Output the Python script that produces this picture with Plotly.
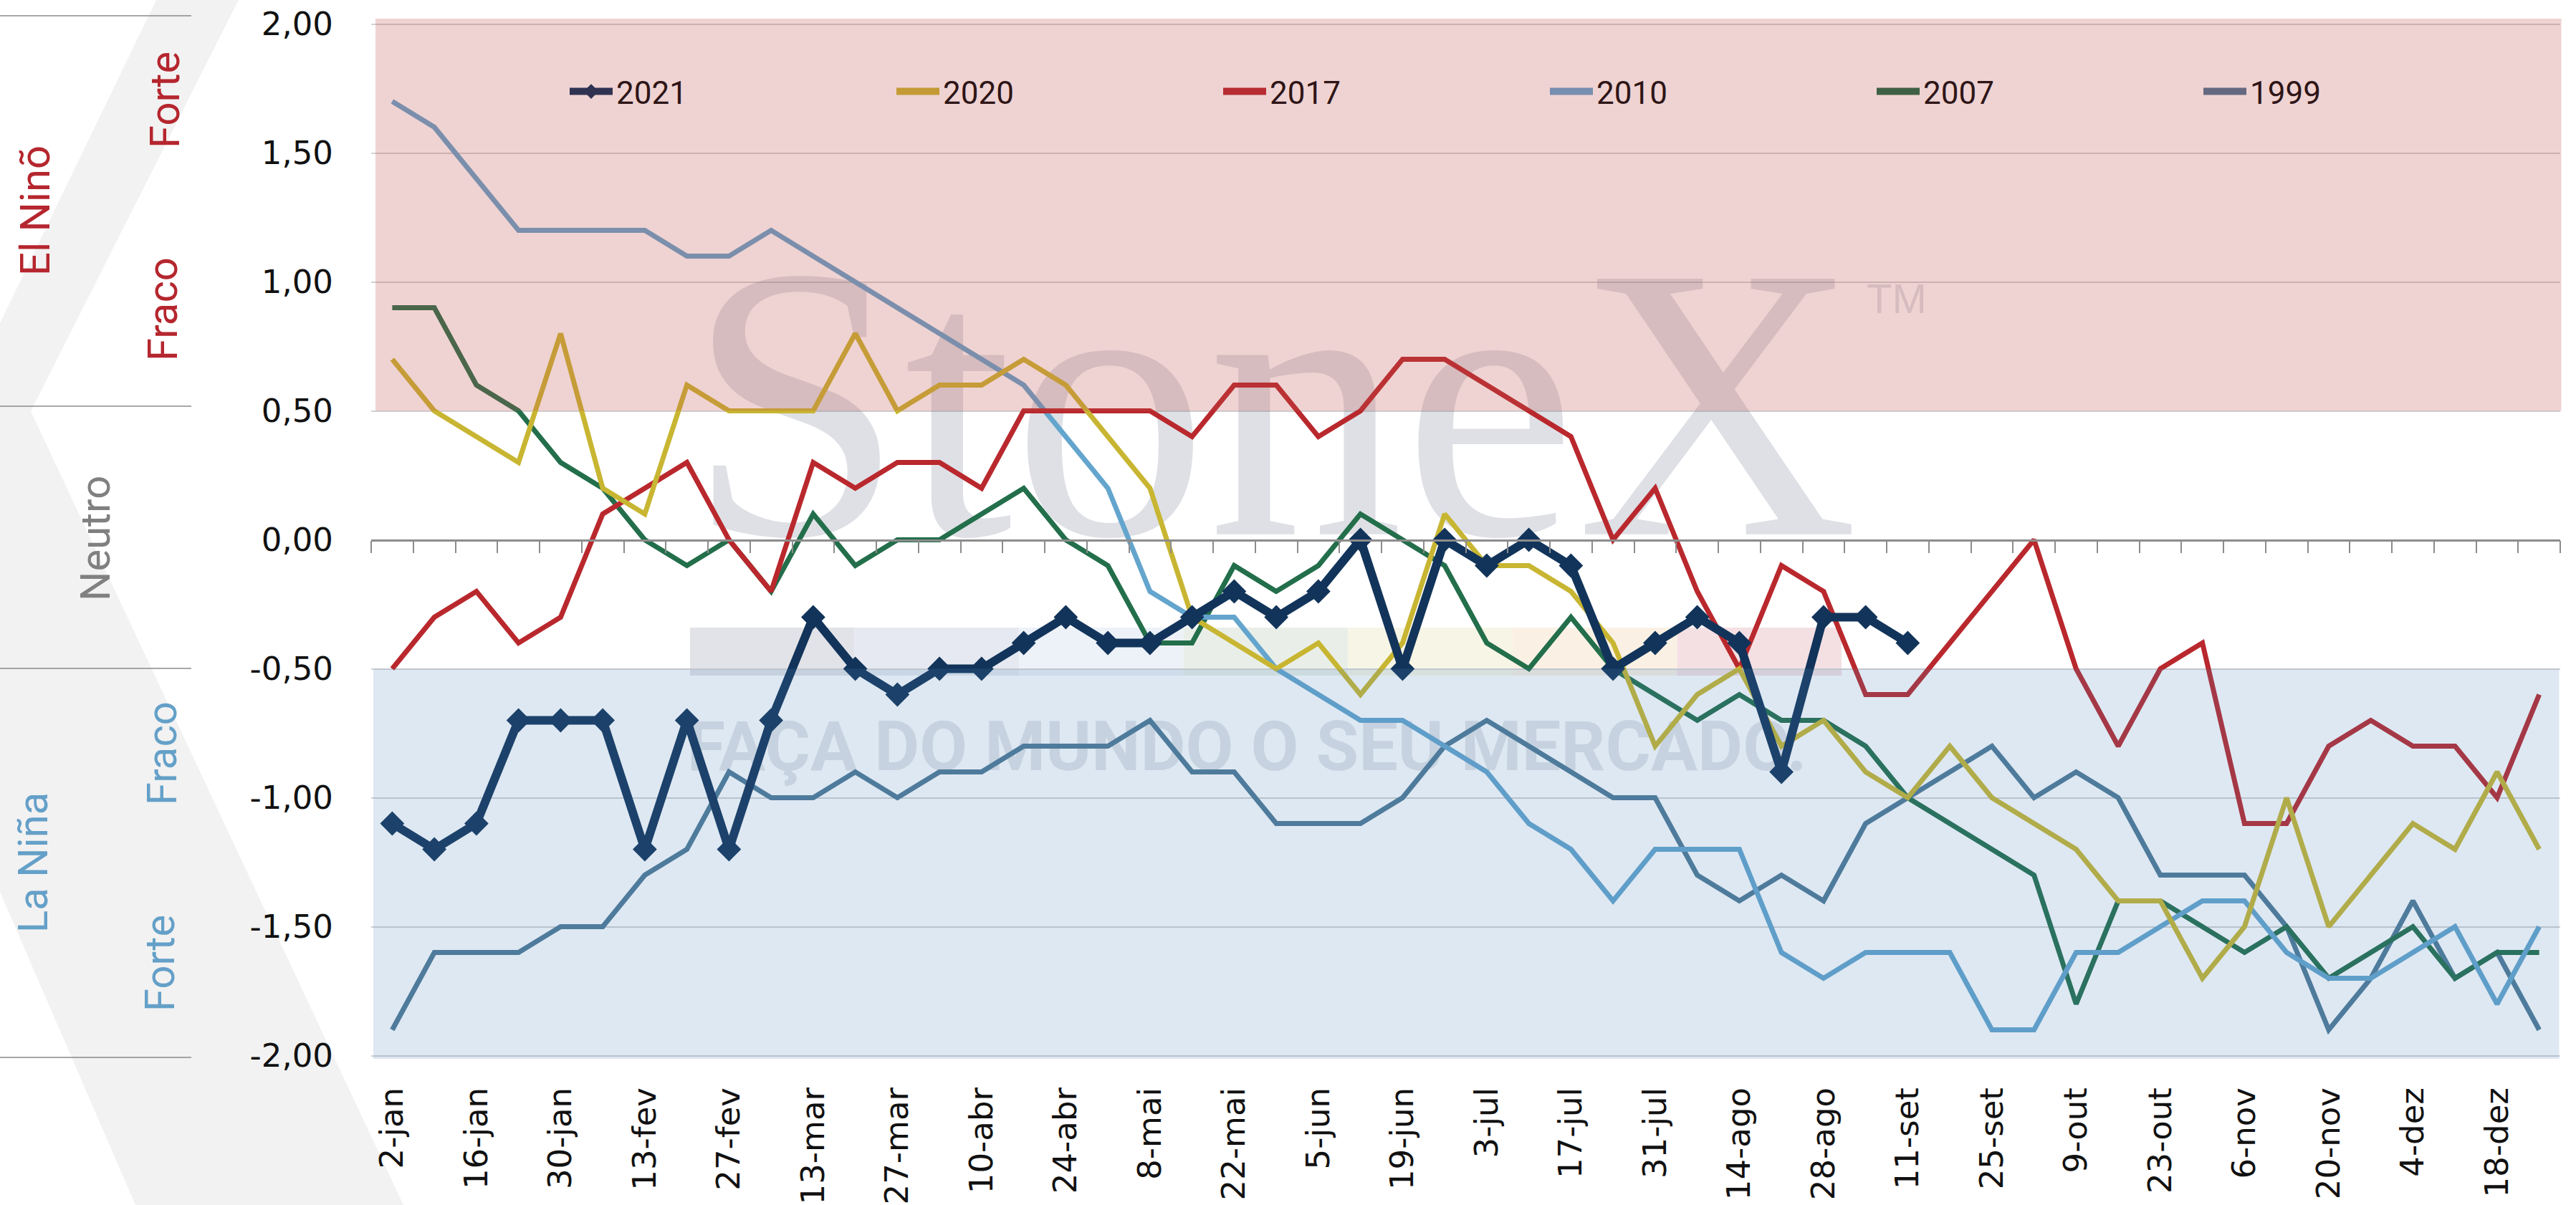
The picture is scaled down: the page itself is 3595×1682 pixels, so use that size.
import plotly.graph_objects as go

# ---------------- data ----------------
weeks = ["2-jan", "9-jan", "16-jan", "23-jan", "30-jan", "6-fev", "13-fev", "20-fev", "27-fev",
         "6-mar", "13-mar", "20-mar", "27-mar", "3-abr", "10-abr", "17-abr", "24-abr",
         "1-mai", "8-mai", "15-mai", "22-mai", "29-mai", "5-jun", "12-jun", "19-jun", "26-jun",
         "3-jul", "10-jul", "17-jul", "24-jul", "31-jul", "7-ago", "14-ago", "21-ago", "28-ago",
         "4-set", "11-set", "18-set", "25-set", "2-out", "9-out", "16-out", "23-out", "30-out",
         "6-nov", "13-nov", "20-nov", "27-nov", "4-dez", "11-dez", "18-dez", "25-dez"]
tick_labels = weeks[::2]

y_ticks = [2.0, 1.5, 1.0, 0.5, 0.0, -0.5, -1.0, -1.5, -2.0]
y_tick_text = ["2,00", "1,50", "1,00", "0,50", "0,00", "-0,50", "-1,00", "-1,50", "-2,00"]

s2021 = [-1.1, -1.2, -1.1, -0.7, -0.7, -0.7, -1.2, -0.7, -1.2, -0.7, -0.3, -0.5, -0.6, -0.5,
         -0.5, -0.4, -0.3, -0.4, -0.4, -0.3, -0.2, -0.3, -0.2, 0.0, -0.5, 0.0, -0.1, 0.0, -0.1,
         -0.5, -0.4, -0.3, -0.4, -0.9, -0.3, -0.3, -0.4]
s2020 = [0.7, 0.5, 0.4, 0.3, 0.8, 0.2, 0.1, 0.6, 0.5, 0.5, 0.5, 0.8, 0.5, 0.6, 0.6, 0.7, 0.6,
         0.4, 0.2, -0.3, -0.4, -0.5, -0.4, -0.6, -0.4, 0.1, -0.1, -0.1, -0.2, -0.4, -0.8, -0.6,
         -0.5, -0.8, -0.7, -0.9, -1.0, -0.8, -1.0, -1.1, -1.2, -1.4, -1.4, -1.7, -1.5, -1.0,
         -1.5, -1.3, -1.1, -1.2, -0.9, -1.2]
s2017 = [-0.5, -0.3, -0.2, -0.4, -0.3, 0.1, 0.2, 0.3, 0.0, -0.2, 0.3, 0.2, 0.3, 0.3, 0.2, 0.5,
         0.5, 0.5, 0.5, 0.4, 0.6, 0.6, 0.4, 0.5, 0.7, 0.7, 0.6, 0.5, 0.4, 0.0, 0.2, -0.2, -0.5,
         -0.1, -0.2, -0.6, -0.6, -0.4, -0.2, 0.0, -0.5, -0.8, -0.5, -0.4, -1.1, -1.1, -0.8,
         -0.7, -0.8, -0.8, -1.0, -0.6]
s2010 = [1.7, 1.6, 1.4, 1.2, 1.2, 1.2, 1.2, 1.1, 1.1, 1.2, 1.1, 1.0, 0.9, 0.8, 0.7, 0.6, 0.4,
         0.2, -0.2, -0.3, -0.3, -0.5, -0.6, -0.7, -0.7, -0.8, -0.9, -1.1, -1.2, -1.4, -1.2,
         -1.2, -1.2, -1.6, -1.7, -1.6, -1.6, -1.6, -1.9, -1.9, -1.6, -1.6, -1.5, -1.4, -1.4,
         -1.6, -1.7, -1.7, -1.6, -1.5, -1.8, -1.5]
s2007 = [0.9, 0.9, 0.6, 0.5, 0.3, 0.2, 0.0, -0.1, 0.0, -0.2, 0.1, -0.1, 0.0, 0.0, 0.1, 0.2, 0.0,
         -0.1, -0.4, -0.4, -0.1, -0.2, -0.1, 0.1, 0.0, -0.1, -0.4, -0.5, -0.3, -0.5, -0.6, -0.7,
         -0.6, -0.7, -0.7, -0.8, -1.0, -1.1, -1.2, -1.3, -1.8, -1.4, -1.4, -1.5, -1.6, -1.5,
         -1.7, -1.6, -1.5, -1.7, -1.6, -1.6]
s1999 = [-1.9, -1.6, -1.6, -1.6, -1.5, -1.5, -1.3, -1.2, -0.9, -1.0, -1.0, -0.9, -1.0, -0.9,
         -0.9, -0.8, -0.8, -0.8, -0.7, -0.9, -0.9, -1.1, -1.1, -1.1, -1.0, -0.8, -0.7, -0.8,
         -0.9, -1.0, -1.0, -1.3, -1.4, -1.3, -1.4, -1.1, -1.0, -0.9, -0.8, -1.0, -0.9, -1.0,
         -1.3, -1.3, -1.3, -1.5, -1.9, -1.7, -1.4, -1.7, -1.6, -1.9]

series_names = ["2021", "2020", "2017", "2010", "2007", "1999"]
series_values = [s2021, s2020, s2017, s2010, s2007, s1999]
line_colors = ["#12345a", "#c8b632", "#b9282d", "#64a5cd", "#236e4b", "#4f7a96"]
legend_colors = ["rgb(48,50,82)", "rgb(196,154,52)", "rgb(182,44,50)",
                 "rgb(118,142,176)", "rgb(62,96,68)", "rgb(100,104,128)"]

# ---------------- geometry helpers ----------------
W, H = 3595, 1682
PL, PR, PT, PB = 518, 3573, 26, 1478
Y_TOP = (753.5 - PT) / 360.0
Y_BOT = (753.5 - PB) / 360.0
X_LO, X_HI = -0.5, len(weeks) - 0.5


def px_x(x):
    return (x - PL) / (PR - PL)


def px_y(y):
    return (PB - y) / (PB - PT)


def val_y(v):
    return (v - Y_BOT) / (Y_TOP - Y_BOT)


def px_to_xval(x):
    return X_LO + (x - PL) / (PR - PL) * (X_HI - X_LO)


fig = go.Figure()

# watermark text (drawn under the coloured bands and under the lines)
fig.add_trace(go.Scatter(x=[weeks[7]], y=[0.40], mode="text", text=["StoneX"],
                         textposition="middle right", hoverinfo="skip", showlegend=False,
                         textfont=dict(family="Liberation Serif", size=545,
                                       color="rgba(115,125,145,0.24)")))
fig.add_trace(go.Scatter(x=[weeks[7]], y=[-0.826], mode="text",
                         text=["FAÇA DO MUNDO O SEU MERCADO."],
                         textposition="middle right", hoverinfo="skip", showlegend=False,
                         textfont=dict(family="Roboto", size=97, weight="bold",
                                       color="rgba(110,120,140,0.20)")))

# data lines (2021 on top)
for name, vals, col in reversed(list(zip(series_names, series_values, line_colors))):
    if name == "2021":
        fig.add_trace(go.Scatter(x=weeks[:len(vals)], y=vals, mode="lines+markers", name=name,
                                 line=dict(color=col, width=12),
                                 marker=dict(symbol="diamond", size=26, color=col),
                                 showlegend=False))
    else:
        fig.add_trace(go.Scatter(x=weeks[:len(vals)], y=vals, mode="lines", name=name,
                                 line=dict(color=col, width=7), showlegend=False))

# trademark sign of the watermark
fig.add_trace(go.Scatter(x=[px_to_xval(2605)], y=[0.92], xaxis="x2", mode="text", text=["TM"],
                         textposition="middle right", hoverinfo="skip", showlegend=False,
                         textfont=dict(family="Liberation Sans", size=58,
                                       color="rgba(115,125,145,0.24)")))

# legend entries (coloured as seen through the pink band)
for name, col in zip(series_names, legend_colors):
    if name == "2021":
        fig.add_trace(go.Scatter(x=[None], y=[None], xaxis="x2", mode="lines+markers",
                                 name=name, line=dict(color=col, width=10),
                                 marker=dict(symbol="diamond", size=30, color=col)))
    else:
        fig.add_trace(go.Scatter(x=[None], y=[None], xaxis="x2", mode="lines",
                                 name=name, line=dict(color=col, width=12)))

shapes = []
# grey chevron on the left
chev = [(218, 0), (333, 0), (43, 574), (563, 1682), (189, 1682), (0, 1245), (0, 451)]
path = "M " + " L ".join(f"{px_x(x):.5f},{px_y(y):.5f}" for x, y in chev) + " Z"
shapes.append(dict(type="path", xref="paper", yref="paper", path=path,
                   fillcolor="#f2f2f2", line=dict(width=0), layer="below"))
# left separator lines
for yy in [22, 567, 933, 1476]:
    shapes.append(dict(type="line", xref="paper", yref="paper", x0=px_x(0), x1=px_x(267),
                       y0=px_y(yy), y1=px_y(yy), line=dict(color="#8a8a8a", width=1.5),
                       layer="below"))
# faint logo colour band
band_cols = ["#e2e3e8", "#e6e9f1", "#edf1f8", "#e9efe8", "#f7f5e6", "#faf1e4", "#f4e0e3"]
bx0, bx1 = 963, 2570
seg = (bx1 - bx0) / len(band_cols)
for k, c in enumerate(band_cols):
    shapes.append(dict(type="rect", xref="paper", yref="paper",
                       x0=px_x(bx0 + k * seg), x1=px_x(bx0 + (k + 1) * seg),
                       y0=px_y(943), y1=px_y(876), fillcolor=c, line=dict(width=0),
                       layer="below"))
# El Niño / La Niña translucent bands
shapes.append(dict(type="rect", xref="paper", yref="paper", x0=px_x(524), x1=1.0005,
                   y0=val_y(0.5), y1=1, fillcolor="rgba(192,80,77,0.25)",
                   line=dict(width=0), layer="above"))
shapes.append(dict(type="rect", xref="paper", yref="paper", x0=px_x(521), x1=0.9995,
                   y0=0, y1=val_y(-0.5), fillcolor="rgba(75,130,185,0.185)",
                   line=dict(width=0), layer="above"))

annotations = []
RED, BLUE, GREY = "#b5262e", "#64a0c8", "#808080"
side_labels = [("El Ninõ", 49, 294, RED), ("Forte", 230, 140, RED), ("Fraco", 227, 432, RED),
               ("Neutro", 133, 752, GREY), ("La Niña", 46, 1204, BLUE),
               ("Fraco", 226, 1052, BLUE), ("Forte", 223, 1345, BLUE)]
for txt, cx, cy, col in side_labels:
    annotations.append(dict(text=txt, xref="paper", yref="paper", x=px_x(cx), y=px_y(cy),
                            xanchor="center", yanchor="middle", textangle=-90,
                            showarrow=False, font=dict(family="Roboto", size=58, color=col)))

fig.update_layout(
    width=W, height=H,
    margin=dict(l=PL, r=W - PR, t=PT, b=H - PB, pad=0, autoexpand=False),
    paper_bgcolor="white", plot_bgcolor="white",
    shapes=shapes, annotations=annotations,
    showlegend=True,
    legend=dict(orientation="h", x=px_x(790), y=px_y(128), xanchor="left", yanchor="middle",
                bgcolor="rgba(0,0,0,0)", borderwidth=0, itemwidth=60,
                entrywidth=381, entrywidthmode="pixels",
                font=dict(family="Roboto", size=44, color="#2e1517")),
    xaxis=dict(type="category", categoryorder="array", categoryarray=weeks,
               range=[X_LO, X_HI], tickmode="array", tickvals=tick_labels,
               ticktext=tick_labels, tickangle=-90, showgrid=False, showline=False,
               zeroline=False, ticks="", ticklabelstandoff=30, automargin=False,
               tickfont=dict(family="DejaVu Sans", size=45, color="#111111")),
    xaxis2=dict(overlaying="x", anchor="free", position=val_y(0.0), side="bottom",
                range=[X_LO, X_HI], showline=True, linecolor="#8c8c8c",
                linewidth=2.5, ticks="outside", ticklen=17, tickwidth=2,
                tickcolor="#8c8c8c", tickmode="array",
                tickvals=[i - 0.5 for i in range(len(weeks) + 1)], automargin=False,
                showticklabels=False, showgrid=False, zeroline=False),
    yaxis=dict(range=[Y_BOT, Y_TOP], tickmode="array", tickvals=y_ticks, ticktext=y_tick_text,
               showgrid=True, gridcolor="#d2d2d2", gridwidth=2, zeroline=False,
               showline=False, ticks="", ticklabelstandoff=52, automargin=False,
               tickfont=dict(family="DejaVu Sans", size=45, color="#111111")),
)

fig.write_html("out.html",
               config={"displayModeBar": False},
               post_script="document.body.style.margin='0px';"
                           "document.body.style.overflow='hidden';")
